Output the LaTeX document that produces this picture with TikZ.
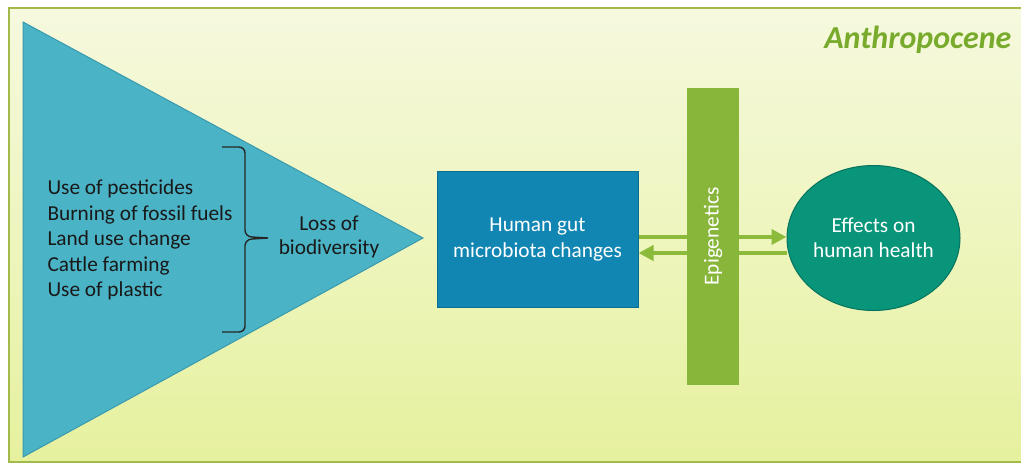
\documentclass[tikz,border=0pt]{standalone}
\usepackage{fontspec}
\setmainfont{Carlito}
\usepackage{tikz}
\usetikzlibrary{shapes.geometric,arrows.meta,calc}

\definecolor{framegreen}{HTML}{A3B94A}
\definecolor{bgtop}{HTML}{F6F9DE}
\definecolor{bgbottom}{HTML}{E6F19E}
\definecolor{trifill}{HTML}{4AB3C5}
\definecolor{triedge}{HTML}{3A9AAE}
\definecolor{gutfill}{HTML}{1186B3}
\definecolor{gutedge}{HTML}{0B6D92}
\definecolor{epifill}{HTML}{88B63A}
\definecolor{healthfill}{HTML}{08957A}
\definecolor{healthedge}{HTML}{07735E}
\definecolor{arrowgreen}{HTML}{8CBB3C}
\definecolor{anthgreen}{HTML}{78AA2C}

\tikzset{
  listtext/.style={align=left,anchor=west,font=\fontsize{21.3}{25.5}\selectfont,text=black!90},
  darktext/.style={align=center,font=\fontsize{21.3}{24}\selectfont,text=black!90},
  gutbox/.style={draw=gutedge,line width=1pt,fill=gutfill,text=white,align=center,
    minimum width=201pt,minimum height=136pt,font=\fontsize{21.3}{26}\selectfont},
  epibar/.style={fill=epifill,text=white,minimum width=52pt,minimum height=297pt},
  healthell/.style={ellipse,draw=healthedge,line width=1pt,fill=healthfill,text=white,align=center,
    minimum width=173pt,minimum height=145pt,inner sep=0pt,font=\fontsize{21.3}{25}\selectfont},
  flowarrow/.style={arrowgreen,line width=4.5pt,-{Triangle[length=15pt,width=15pt]}}
}

\begin{document}
\begin{tikzpicture}[x=1pt,y=-1pt]
  \useasboundingbox (0,0) rectangle (1021,464);
  % Background frame
  \fill[white] (0,0) rectangle (1021,464);
  \shade[top color=bgtop,bottom color=bgbottom] (9,8) rectangle (1021,462);
  \draw[framegreen,line width=2pt] (1021,8) -- (9,8) -- (9,462) -- (1021,462);
  \node[anchor=east,font=\fontsize{32}{32}\selectfont\bfseries\itshape,text=anthgreen] (anth) at (1015,40) {Anthropocene};

  % Drivers triangle
  \draw[fill=trifill,draw=triedge,line width=1pt] (23,22) -- (423,238) -- (23,457) -- cycle;
  \node[listtext] (drivers) at (44,240) {Use of pesticides\\Burning of fossil fuels\\Land use change\\Cattle farming\\Use of plastic};
  \draw[black!85,line width=1.4pt] (222,147) -- (239,147) to[out=0,in=90] (245,153) -- (245,230)
    to[out=-90,in=180] (252,237) -- (268,238) -- (252,239) to[out=180,in=90] (245,246)
    -- (245,326) to[out=-90,in=0] (239,332) -- (222,332);
  \node[darktext] (loss) at (329,237) {Loss of\\biodiversity};

  % Microbiota and health
  \node[gutbox] (gut) at (537.5,239) {Human gut\\microbiota changes};
  \node[healthell] (health) at (873.5,238) {Effects on\\human health};

  % Arrows behind the bar
  \draw[flowarrow] ([yshift=2pt]gut.east) -- ([yshift=1pt]health.west);
  \draw[flowarrow] ([yshift=-15pt]health.west) -- ([yshift=-14pt]gut.east);

  % Epigenetics
  \node[epibar] (epi) at (713,236.5) {};
  \node[rotate=90,text=white,font=\fontsize{21.3}{24}\selectfont] (epilabel) at (epi.center) {Epigenetics};
\end{tikzpicture}
\end{document}
